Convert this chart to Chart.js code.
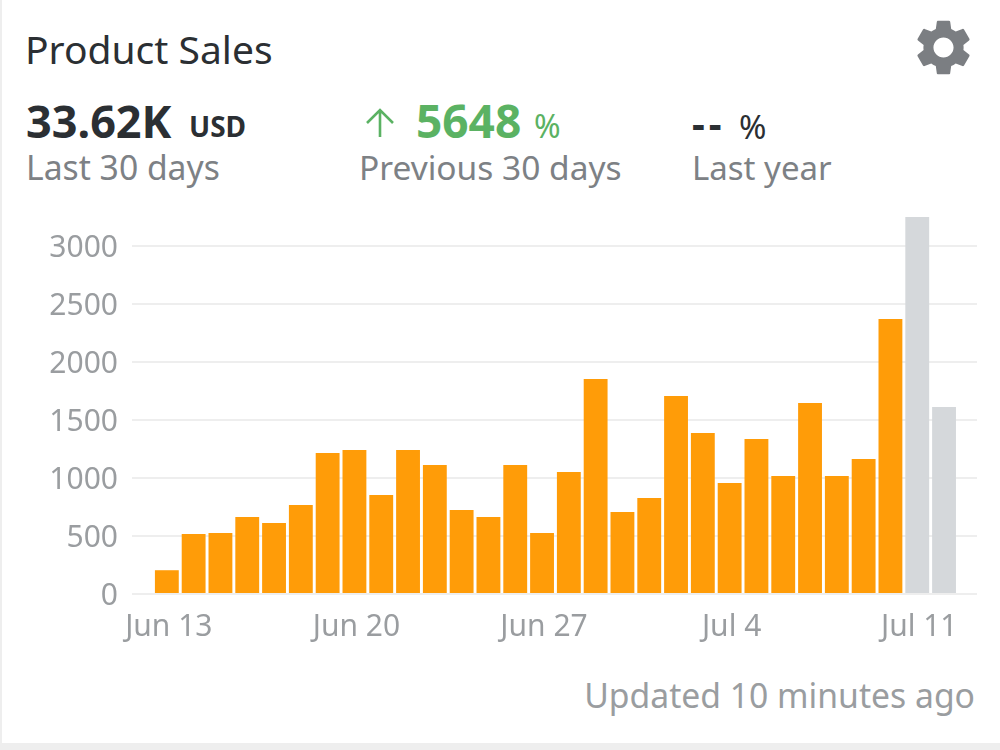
<!DOCTYPE html>
<html>
<head>
<meta charset="utf-8">
<title>Product Sales</title>
<script src="https://cdn.jsdelivr.net/npm/chart.js@4"></script>
<style>
    html, body { margin: 0; padding: 0; background: white; }
    body { width: 1000px; height: 750px; position: relative; overflow: hidden; font-family: "Noto Sans", sans-serif; }
    canvas { position: absolute; left: 0; top: 0; }
    .txt { position: absolute; white-space: nowrap; line-height: 1; }
    .edge-left { position: absolute; left: 0; top: 0; width: 2px; height: 750px; background: #eeeeee; }
    .edge-bottom { position: absolute; left: 0; top: 743px; width: 1000px; height: 7px; background: #eeeeee; }
    .dark { color: #2b2f33; }
    .grey { color: #7d8185; }
    .green { color: #5bb263; }
    #gear { position: absolute; left: 910px; top: 14px; width: 67px; height: 67px; fill: #7b7e82; }
</style>
</head>
<body>
<div class="edge-left"></div>
<div class="edge-bottom"></div>

<div class="txt dark" style="left:25px;top:29px;font-size:39px">Product Sales</div>
<svg id="gear" viewBox="0 0 24 24"><path d="M19.14 12.94c.04-.3.06-.61.06-.94 0-.32-.02-.64-.07-.94l2.03-1.58a.49.49 0 0 0 .12-.61l-1.92-3.32a.488.488 0 0 0-.59-.22l-2.39.96c-.5-.38-1.03-.7-1.62-.94l-.36-2.54a.484.484 0 0 0-.48-.41h-3.84c-.24 0-.43.17-.47.41l-.36 2.54c-.59.24-1.13.57-1.62.94l-2.39-.96c-.22-.08-.47 0-.59.22L2.74 8.87c-.12.21-.08.47.12.61l2.03 1.58c-.05.3-.09.63-.09.94s.02.64.07.94l-2.03 1.58a.49.49 0 0 0-.12.61l1.92 3.32c.12.22.37.29.59.22l2.39-.96c.5.38 1.03.7 1.62.94l.36 2.54c.05.24.24.41.48.41h3.84c.24 0 .44-.17.47-.41l.36-2.54c.59-.24 1.13-.56 1.62-.94l2.39.96c.22.08.47 0 .59-.22l1.92-3.32c.12-.22.07-.47-.12-.61l-2.01-1.58zM12 15.6c-1.98 0-3.6-1.62-3.6-3.6s1.62-3.6 3.6-3.6 3.6 1.62 3.6 3.6-1.62 3.6-3.6 3.6z"/></svg>

<div class="txt dark" style="left:26px;top:98px;font-size:45px;font-weight:700">33.62K</div>
<div class="txt dark" style="left:189px;top:112px;font-size:28px;font-weight:700">USD</div>
<div class="txt grey" style="left:26px;top:151px;font-size:33.7px">Last 30 days</div>

<svg style="position:absolute;left:364px;top:107px" width="32" height="32" viewBox="0 0 32 32"><path d="M16 30V3M3 16L16 3L29 16" fill="none" stroke="#5bb263" stroke-width="2.6"/></svg>
<div class="txt green" style="left:416px;top:97px;font-size:46px;font-weight:700">5648</div>
<div class="txt green" style="left:534px;top:110px;font-size:32px">%</div>
<div class="txt grey" style="left:359px;top:151px;font-size:33.5px">Previous 30 days</div>

<div class="txt dark" style="left:692px;top:103px;font-size:40px;font-weight:700;letter-spacing:4px">--</div>
<div class="txt dark" style="left:739px;top:110px;font-size:33px">%</div>
<div class="txt grey" style="left:692px;top:151px;font-size:33px">Last year</div>

<div class="txt" style="right:25px;top:679px;font-size:33.7px;color:#9a9da0">Updated 10 minutes ago</div>

<canvas id="salesChart" width="1000" height="750"></canvas>

<script>
// daily sales for the 30 day window, one value per day starting Jun 13
const sales = [205, 517, 525, 664, 612, 767, 1215, 1241, 853, 1241,
               1112, 724, 664, 1112, 525, 1052, 1853, 707, 828, 1707,
               1388, 957, 1336, 1017, 1647, 1017, 1164, 2371, 3250, 1612];
const tick_days = [0, 7, 14, 21, 28];
const tick_labels = ['Jun 13', 'Jun 20', 'Jun 27', 'Jul 4', 'Jul 11'];
const y_ticks = [0, 500, 1000, 1500, 2000, 2500, 3000];

// the last two days are still pending, those go grey
const settled_days = 28;

const salesCtx = document.getElementById('salesChart').getContext('2d');

let salesChart = new Chart(salesCtx, {
    type: 'bar',
    data: {
        datasets: [{
            label: 'Sales',
            data: sales.map((v, i) => ({ x: i, y: v })),
            backgroundColor: (ctx) => {
                return ctx.dataIndex < settled_days ? '#ff9c08' : '#d5d8db';
            },
            barPercentage: 0.89,
            categoryPercentage: 1
        }]
    },
    options: {
        responsive: false,
        animation: false,
        layout: {
            padding: { top: 217, right: 23, left: 0, bottom: 0 }
        },
        plugins: {
            legend: { display: false },
            title: { display: false },
            tooltip: { enabled: false }
        },
        scales: {
            x: {
                type: 'linear',
                offset: false,
                min: -1.3,
                max: 30.23,
                afterBuildTicks: (scale) => {
                    scale.ticks = tick_days.map(d => ({ value: d }));
                },
                afterFit: (scale) => { scale.height = 156; },
                ticks: {
                    color: '#9a9da0',
                    autoSkip: false,
                    maxRotation: 0,
                    padding: 7,
                    labelOffset: 2,
                    font: { family: 'Noto Sans', size: 30 },
                    callback: (value) => tick_labels[tick_days.indexOf(value)]
                },
                grid: { display: false },
                border: { display: false }
            },
            y: {
                min: 0,
                max: 3250,
                afterBuildTicks: (scale) => {
                    scale.ticks = y_ticks.map(v => ({ value: v }));
                },
                afterFit: (scale) => { scale.width = 132; },
                ticks: {
                    color: '#9a9da0',
                    padding: 14,
                    labelOffset: 2,
                    font: { family: 'Noto Sans', size: 30 },
                    callback: (value) => String(value)
                },
                grid: { color: '#eeeeee', lineWidth: 2, drawTicks: false },
                border: { display: false }
            }
        }
    }
});
</script>
</body>
</html>
